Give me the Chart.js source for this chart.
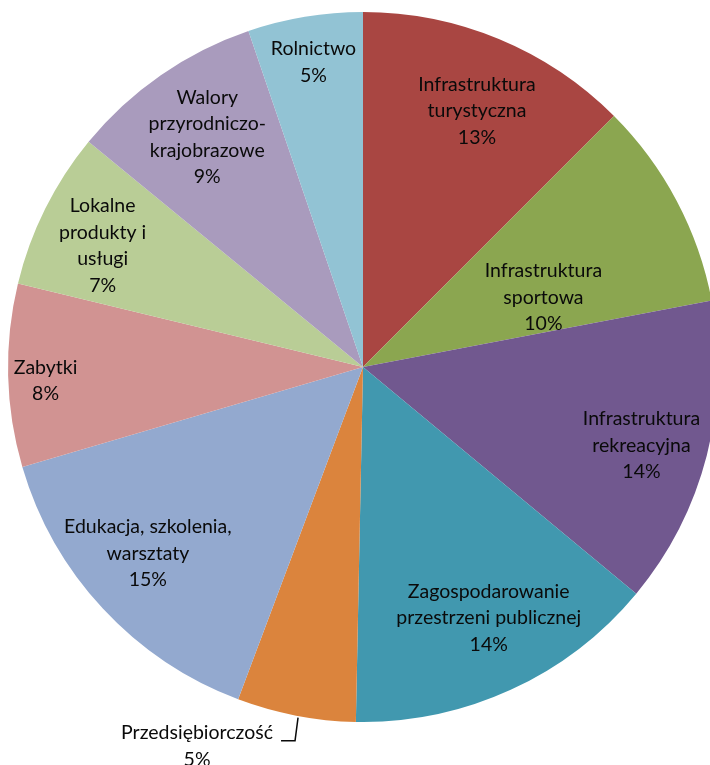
<!DOCTYPE html>
<html>
<head>
<meta charset="utf-8">
<script src="https://cdn.jsdelivr.net/npm/chart.js@4"></script>
<style>
  html, body { margin: 0; padding: 0; background: #fff; overflow: hidden; }
  #wrap { width: 726px; height: 765px; }
</style>
</head>
<body>
<div id="wrap"><canvas id="pie" width="726" height="765"></canvas></div>
<script>
// categories (multi-line labels as Excel wrapped them)
const categories = [
  ['Infrastruktura', 'turystyczna'],
  ['Infrastruktura', 'sportowa'],
  ['Infrastruktura', 'rekreacyjna'],
  ['Zagospodarowanie', 'przestrzeni publicznej'],
  ['Przedsiębiorczość'],
  ['Edukacja, szkolenia,', 'warsztaty'],
  ['Zabytki'],
  ['Lokalne', 'produkty i', 'usługi'],
  ['Walory', 'przyrodniczo-', 'krajobrazowe'],
  ['Rolnictwo']
];
// shares in percent
const shares = [12.5, 9.5, 14.02, 14.3, 5.4, 14.74, 8.32, 7.16, 8.83, 5.23];
const colors = ['#A94642', '#8BA650', '#71588F', '#4198AF', '#DB843D',
                '#93A9CF', '#D19392', '#B9CD96', '#A99BBD', '#92C3D4'];

// label placement: fraction of radius along the slice mid angle, plus a small nudge
const labelPlace = [
  { f: 0.78, dx: 8, dy: 0 },
  { f: 0.54, dx: 11, dy: 20 },
  { f: 0.81, dx: 0, dy: 7 },
  { f: 0.79, dx: 9, dy: -4 },
  { outside: true },
  { f: 0.80, dx: -7, dy: -7 },
  { f: 0.90, dx: 2, dy: 6 },
  { f: 0.81, dx: -3, dy: 7 },
  { f: 0.78, dx: 2, dy: -2 },
  { f: 0.87, dx: 1, dy: 0 }
];

const FONT = '19.5px Lato';
const LINE_H = 26.5;

function drawBlock(ctx, lines, cx, cy) {
  const top = cy - (lines.length - 1) * LINE_H / 2;
  lines.forEach((t, k) => ctx.fillText(t, cx, top + k * LINE_H));
}

const sliceLabels = {
  id: 'sliceLabels',
  afterDatasetsDraw(chart) {
    const ctx = chart.ctx;
    const meta = chart.getDatasetMeta(0);
    const total = Math.round(shares.reduce((a, b) => a + b, 0) * 10) / 10;
    ctx.save();
    ctx.font = FONT;
    ctx.fillStyle = '#0a0a0a';
    ctx.textAlign = 'center';
    ctx.textBaseline = 'middle';
    meta.data.forEach((arc, i) => {
      const p = arc.getProps(['x', 'y', 'startAngle', 'endAngle', 'outerRadius'], true);
      const mid = (p.startAngle + p.endAngle) / 2;
      const lines = categories[i].concat(Math.round(shares[i] * 100 / total) + '%');
      const place = labelPlace[i];
      if (place.outside) {
        const ex = p.x + Math.cos(mid) * p.outerRadius;
        const ey = p.y + Math.sin(mid) * p.outerRadius;
        ctx.strokeStyle = '#0a0a0a';
        ctx.lineWidth = 1.5;
        ctx.beginPath();
        ctx.moveTo(ex + 2, ey + 2);
        ctx.lineTo(ex - 1, ey + 25);
        ctx.lineTo(ex - 15, ey + 25);
        ctx.stroke();
        drawBlock(ctx, lines, ex - 99, ey + 30.5);
      } else {
        const r = p.outerRadius * place.f;
        drawBlock(ctx, lines, p.x + Math.cos(mid) * r + place.dx, p.y + Math.sin(mid) * r + place.dy);
      }
    });
    ctx.restore();
  }
};

new Chart(document.getElementById('pie'), {
  type: 'pie',
  data: {
    labels: categories,
    datasets: [{ data: shares, backgroundColor: colors, borderWidth: 0 }]
  },
  options: {
    responsive: false,
    animation: false,
    layout: { padding: { left: 8, right: 8, top: 12, bottom: 43 } },
    plugins: { legend: { display: false }, tooltip: { enabled: false } }
  },
  plugins: [sliceLabels]
});
</script>
</body>
</html>
